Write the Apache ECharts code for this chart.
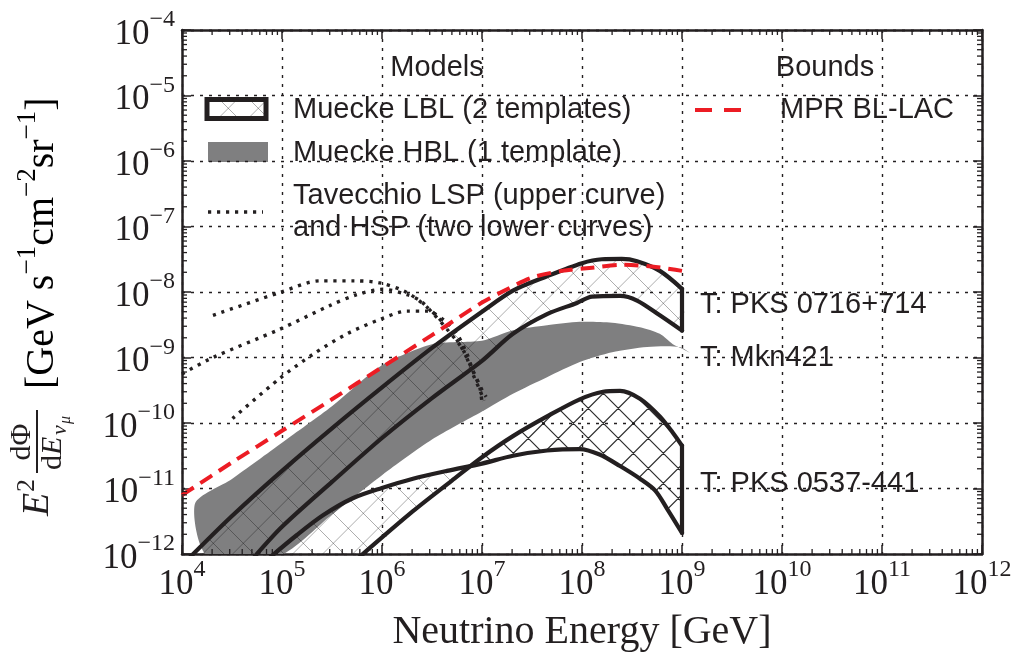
<!DOCTYPE html>
<html>
<head>
<meta charset="utf-8">
<script src="https://cdn.jsdelivr.net/npm/echarts@6/dist/echarts.min.js"></script>
<style>
html,body{margin:0;padding:0;background:#fff;}
#chart{width:1019px;height:657px;}
</style>
</head>
<body>
<div id="chart"></div>
<script>
// ---------------- axis ticks ----------------
const xDecades = [1e4, 1e5, 1e6, 1e7, 1e8, 1e9, 1e10, 1e11, 1e12];
const yDecades = [1e-12, 1e-11, 1e-10, 1e-9, 1e-8, 1e-7, 1e-6, 1e-5, 1e-4];
const minorMultipliers = [2, 3, 4, 5, 6, 7, 8, 9];

// ---------------- data: [neutrino energy (GeV), E^2 dPhi/dE] ----------------
// MPR BL-LAC bound (red dashed)
const mprBlLac = [[1e4,7.9e-12],[3.16e4,2.5e-11],[1e5,7.6e-11],[3.16e5,2.3e-10],[1e6,7.1e-10],[3.16e6,2.2e-9],[1e7,6.9e-9],[1.78e7,1.1e-8],[3.16e7,1.66e-8],[6.3e7,2.1e-8],[1.26e8,2.35e-8],[2.5e8,2.6e-8],[5e8,2.45e-8],[1e9,2.1e-8]];
// Muecke LBL, template PKS 0716+714
const pks0716Upper = [[1.2e4,8.9e-13],[3.16e4,3.8e-12],[1e5,1.86e-11],[3.16e5,8.3e-11],[1e6,3.5e-10],[3.16e6,1.4e-9],[1e7,5e-9],[2.04e7,1.05e-8],[4.47e7,1.74e-8],[1e8,2.75e-8],[1.58e8,3.16e-8],[2.5e8,3.2e-8],[3.55e8,2.95e-8],[6e8,2.1e-8],[1e9,1.12e-8]];
const pks0716Lower = [[5.25e4,8.9e-13],[1e5,2.6e-12],[3.16e5,1.26e-11],[1e6,5.9e-11],[3.16e6,2.4e-10],[1e7,8.9e-10],[2.04e7,2.3e-9],[4.47e7,4.6e-9],[8.9e7,6.8e-9],[1.26e8,8.5e-9],[2.4e8,8.7e-9],[3.55e8,7.4e-9],[6e8,4.4e-9],[1e9,2.57e-9]];
// Muecke LBL, template PKS 0537-441 (curve A: flatter, curve B: steeper)
const pks0537A = [[7.6e4,8.9e-13],[1.41e5,1.95e-12],[2.57e5,3.9e-12],[5.1e5,7.1e-12],[1e6,1.02e-11],[2.04e6,1.41e-11],[4.47e6,1.86e-11],[1e7,2.4e-11],[2.04e7,3.16e-11],[4.47e7,3.8e-11],[9.5e7,4e-11],[1.5e8,3.3e-11],[2.4e8,2.2e-11],[3.8e8,1.41e-11],[5.4e8,9.3e-12],[7.1e8,4.9e-12],[1e9,2.1e-12]];
const pks0537B = [[5.9e5,8.9e-13],[2.04e6,4.5e-12],[5e6,1.32e-11],[1e7,3e-11],[2.04e7,6.3e-11],[4.47e7,1.26e-10],[9.5e7,2.3e-10],[1.62e8,3e-10],[2.4e8,3.1e-10],[3.8e8,2.35e-10],[6e8,1.26e-10],[8.1e8,7.1e-11],[1e9,4.5e-11]];
const pks0537Cross = [7.7e6, 2.2e-11];
// Muecke HBL, template Mkn421 (grey band)
const mkn421Upper = [[1.35e4,5.9e-12],[3.16e4,1.4e-11],[1e5,5e-11],[3.16e5,1.8e-10],[1e6,7.6e-10],[3.16e6,1.6e-9],[1e7,1.8e-9],[2.04e7,2.6e-9],[4.47e7,3.1e-9],[9.5e7,3.5e-9],[2e8,3.4e-9],[3.8e8,2.9e-9],[6e8,2.3e-9],[8.1e8,1.6e-9],[1.02e9,1.35e-9],[1.26e9,1.12e-9]];
const mkn421Lower = [[1.78e4,9.5e-13],[9.5e4,9.5e-13],[3.16e5,4e-12],[1e6,1.6e-11],[3.16e6,5.6e-11],[1e7,1.5e-10],[2.04e7,2.8e-10],[4.47e7,5e-10],[9.5e7,8.5e-10],[2e8,1.2e-9],[4.47e8,1.45e-9],[9.5e8,1.45e-9],[1.26e9,1.12e-9]];
// Tavecchio LSP (upper) and HSP (two lower) curves
const tavecchioLSP = [[2.04e4,4.4e-9],[9.5e4,9.8e-9],[2.4e5,1.48e-8],[5.1e5,1.48e-8],[9.5e5,1.38e-8],[1.78e6,9.8e-9],[3e6,5.4e-9],[4.47e6,2.9e-9],[6e6,1.58e-9],[8.1e6,6.3e-10],[1e7,3.2e-10],[1.1e7,2.5e-10]];
const tavecchioHSP1 = [[1e4,5.6e-10],[2.04e4,1e-9],[9.5e4,2.7e-9],[3e5,6.2e-9],[5.6e5,9.1e-9],[1.02e6,1.1e-8],[1.78e6,9.1e-9],[2.4e6,7.4e-9],[3.2e6,4.8e-9],[4.47e6,2.7e-9],[6.5e6,1.29e-9],[8.1e6,5.6e-10],[9.5e6,3.2e-10],[1.05e7,2.2e-10]];
const tavecchioHSP2 = [[3.2e4,1.17e-10],[9.5e4,4.8e-10],[2.04e5,1.12e-9],[4.47e5,2.3e-9],[9.5e5,3.8e-9],[1.78e6,5.1e-9],[2.8e6,5.1e-9],[4.1e6,3.8e-9],[5.6e6,2.3e-9],[7.1e6,1.12e-9],[8.1e6,6.3e-10],[9.5e6,3.5e-10],[1e7,2e-10]];

// ---------------- texts ----------------
const legendHeaders = ['Models', 'Bounds'];
const legendLabels = ['Muecke LBL (2 templates)', 'Muecke HBL (1 template)', 'Tavecchio LSP (upper curve)', 'and HSP (two lower curves)', 'MPR BL-LAC'];
const templateLabels = ['T: PKS 0716+714', 'T: Mkn421', 'T: PKS 0537-441'];
const xTitle = 'Neutrino Energy [GeV]';

// ---------------- helpers ----------------
const XMIN = xDecades[0], XMAX = xDecades[xDecades.length - 1];
const YMIN = yDecades[0], YMAX = yDecades[yDecades.length - 1];
const INK = '#231f20';
const SERIF = '"Liberation Serif", "DejaVu Serif", serif';
const SANS = '"Liberation Sans", Arial, sans-serif';
const SANS_FONT = '29px ' + SANS;

function hatchPattern(color, lw) {
  const s = 30, c = document.createElement('canvas');
  c.width = s; c.height = s;
  const g = c.getContext('2d');
  g.strokeStyle = color; g.lineWidth = lw;
  g.beginPath();
  for (let k = -3; k <= 3; k++) {
    g.moveTo(-s, -s + k * s); g.lineTo(2 * s, 2 * s + k * s);
    g.moveTo(-s, s + 6.6 + k * s); g.lineTo(2 * s, -2 * s + 6.6 + k * s);
  }
  g.stroke();
  return { image: c, repeat: 'repeat' };
}
const lightHatch = hatchPattern('rgba(0,0,0,0.32)', 1);
const darkHatch = hatchPattern('rgba(20,20,20,0.9)', 1.2);

function minorValues(decades) {
  const out = [];
  for (let i = 0; i < decades.length - 1; i++) minorMultipliers.forEach(m => out.push(decades[i] * m));
  return out;
}

function polygonSeries(name, points, fill, z) {
  return {
    name, type: 'custom', clip: true, silent: true, z,
    data: points,
    renderItem: (params, api) => {
      if (params.dataIndex !== 0) return null;
      return {
        type: 'polygon',
        shape: { points: points.map(p => api.coord(p)), smooth: 0.25 },
        style: { fill: fill, stroke: null }
      };
    }
  };
}

function lineSeries(name, data, style, z) {
  return {
    name, type: 'line', data, z, clip: true, silent: true,
    showSymbol: false, symbol: 'none', smooth: 0.3,
    lineStyle: Object.assign({ cap: 'round', join: 'round' }, style)
  };
}

const blackLine = { color: INK, width: 4.2 };
const dottedLine = { color: INK, width: 3.4, type: [3.2, 5.8], cap: 'butt' };
const redDash = { color: '#ec1c24', width: 4, type: [14, 8], cap: 'butt' };

const supRich = {
  b: { fontFamily: SERIF, fontSize: 35, color: INK, lineHeight: 44, verticalAlign: 'bottom' },
  s: { fontFamily: SERIF, fontSize: 24, color: INK, lineHeight: 20, verticalAlign: 'top' }
};

// ---------------- band polygons ----------------
const pks0716Poly = pks0716Upper.concat(pks0716Lower.slice().reverse());
const pks0537LeftPoly = pks0537B.filter(p => p[0] < pks0537Cross[0]).concat([pks0537Cross], pks0537A.filter(p => p[0] < pks0537Cross[0]).reverse());
const pks0537RightPoly = [pks0537Cross].concat(pks0537B.filter(p => p[0] > pks0537Cross[0]), pks0537A.filter(p => p[0] > pks0537Cross[0]).reverse());
const mkn421Poly = mkn421Upper.concat(mkn421Lower.slice().reverse());

function tickSeries(values, isX) {
  return {
    type: 'custom', silent: true, z: 20, clip: false,
    data: values.map(v => isX ? [v, YMIN] : [XMIN, v]),
    renderItem: (params, api) => {
      const len = 5, st = { stroke: INK, lineWidth: 1.3 };
      if (isX) {
        const v = api.value(0);
        const b = api.coord([v, YMIN]), t = api.coord([v, YMAX]);
        return { type: 'group', children: [
          { type: 'line', shape: { x1: b[0], y1: b[1], x2: b[0], y2: b[1] - len }, style: st },
          { type: 'line', shape: { x1: t[0], y1: t[1], x2: t[0], y2: t[1] + len }, style: st }
        ] };
      } else {
        const v = api.value(1);
        const l = api.coord([XMIN, v]), r = api.coord([XMAX, v]);
        return { type: 'group', children: [
          { type: 'line', shape: { x1: l[0], y1: l[1], x2: l[0] + len, y2: l[1] }, style: st },
          { type: 'line', shape: { x1: r[0], y1: r[1], x2: r[0] - len, y2: r[1] }, style: st }
        ] };
      }
    }
  };
}

const axisLineStyle = { show: true, onZero: false, lineStyle: { color: INK, width: 2.5 } };
const majorTick = { show: true, inside: true, length: 9, lineStyle: { color: INK, width: 1.5 } };
const gridLine = { show: true, lineStyle: { color: INK, width: 1.4, type: [3, 6] } };

const chart = echarts.init(document.getElementById('chart'));
chart.setOption({
  animation: false,
  backgroundColor: '#fff',
  grid: { left: 182, right: 37, top: 30, bottom: 98, containLabel: false },
  xAxis: [{
    type: 'log', logBase: 10, min: XMIN, max: XMAX,
    axisLine: axisLineStyle, axisTick: majorTick, splitLine: gridLine,
    axisLabel: {
      margin: 4,
      formatter: v => '{b|10}{s|' + Math.round(Math.log10(v)) + '}',
      rich: supRich
    },
    name: xTitle, nameLocation: 'middle', nameGap: 58,
    nameTextStyle: { fontFamily: SERIF, fontSize: 40, color: INK }
  }, {
    type: 'log', logBase: 10, min: XMIN, max: XMAX, position: 'top',
    axisLine: axisLineStyle, axisTick: majorTick, splitLine: { show: false }, axisLabel: { show: false }
  }],
  yAxis: [{
    type: 'log', logBase: 10, min: YMIN, max: YMAX,
    axisLine: axisLineStyle, axisTick: majorTick, splitLine: gridLine,
    axisLabel: {
      margin: 7,
      formatter: v => '{b|10}{s|\u2212' + (-Math.round(Math.log10(v))) + '}',
      rich: supRich
    }
  }, {
    type: 'log', logBase: 10, min: YMIN, max: YMAX, position: 'right',
    axisLine: axisLineStyle, axisTick: majorTick, splitLine: { show: false }, axisLabel: { show: false }
  }],
  series: [
    polygonSeries('Mkn421', mkn421Poly, '#7f7f80', 2),
    polygonSeries('PKS 0716+714 fill', pks0716Poly, lightHatch, 3),
    polygonSeries('PKS 0537-441 fill low', pks0537LeftPoly, lightHatch, 3),
    polygonSeries('PKS 0537-441 fill high', pks0537RightPoly, darkHatch, 3),
    lineSeries('PKS 0716 upper', pks0716Upper, blackLine, 5),
    lineSeries('PKS 0716 lower', pks0716Lower, blackLine, 5),
    lineSeries('PKS 0716 edge', [pks0716Upper[pks0716Upper.length - 1], pks0716Lower[pks0716Lower.length - 1]], blackLine, 5),
    lineSeries('PKS 0537 A', pks0537A, blackLine, 5),
    lineSeries('PKS 0537 B', pks0537B, blackLine, 5),
    lineSeries('PKS 0537 edge', [pks0537B[pks0537B.length - 1], pks0537A[pks0537A.length - 1]], blackLine, 5),
    lineSeries('Tavecchio LSP', tavecchioLSP, dottedLine, 6),
    lineSeries('Tavecchio HSP 1', tavecchioHSP1, dottedLine, 6),
    lineSeries('Tavecchio HSP 2', tavecchioHSP2, dottedLine, 6),
    lineSeries('MPR BL-LAC', mprBlLac, redDash, 7),
    tickSeries(minorValues(xDecades), true),
    tickSeries(minorValues(yDecades), false)
  ],
  graphic: [
    // legend headers
    { type: 'text', x: 437, y: 68, style: { text: legendHeaders[0], font: SANS_FONT, fill: INK, align: 'center', verticalAlign: 'middle' } },
    { type: 'text', x: 825, y: 68, style: { text: legendHeaders[1], font: SANS_FONT, fill: INK, align: 'center', verticalAlign: 'middle' } },
    // legend symbols
    { type: 'rect', shape: { x: 207, y: 99.5, width: 59, height: 19 }, style: { fill: lightHatch, stroke: INK, lineWidth: 5 } },
    { type: 'rect', shape: { x: 208, y: 142, width: 60, height: 20 }, style: { fill: '#7f7f80' } },
    { type: 'line', shape: { x1: 208, y1: 212, x2: 263, y2: 212 }, style: { stroke: INK, lineWidth: 3.4, lineDash: [3.2, 5.8] } },
    { type: 'line', shape: { x1: 695, y1: 110, x2: 741, y2: 110 }, style: { stroke: '#ec1c24', lineWidth: 4, lineDash: [17, 12] } },
    // legend labels
    { type: 'text', x: 293, y: 110, style: { text: legendLabels[0], font: SANS_FONT, fill: INK, verticalAlign: 'middle' } },
    { type: 'text', x: 293, y: 153, style: { text: legendLabels[1], font: SANS_FONT, fill: INK, verticalAlign: 'middle' } },
    { type: 'text', x: 293, y: 196, style: { text: legendLabels[2], font: SANS_FONT, fill: INK, verticalAlign: 'middle' } },
    { type: 'text', x: 293, y: 228, style: { text: legendLabels[3], font: SANS_FONT, fill: INK, verticalAlign: 'middle' } },
    { type: 'text', x: 780, y: 110, style: { text: legendLabels[4], font: SANS_FONT, fill: INK, verticalAlign: 'middle' } },
    // template labels
    { type: 'text', x: 700, y: 305, style: { text: templateLabels[0], font: SANS_FONT, fill: INK, verticalAlign: 'middle' } },
    { type: 'text', x: 700, y: 358, style: { text: templateLabels[1], font: SANS_FONT, fill: INK, verticalAlign: 'middle' } },
    { type: 'text', x: 700, y: 484, style: { text: templateLabels[2], font: SANS_FONT, fill: INK, verticalAlign: 'middle' } },
    // y-axis title (rotated)
    { type: 'group', x: 38, y: 516, rotation: Math.PI / 2, children: [
      { type: 'text', x: 0, y: 0, style: { text: 'E', font: 'italic 38px ' + SERIF, fill: INK, verticalAlign: 'middle' } },
      { type: 'text', x: 24, y: -11, style: { text: '2', font: '26px ' + SERIF, fill: INK, verticalAlign: 'middle' } },
      { type: 'text', x: 74, y: -16, style: { text: 'd\u03A6', font: '30px ' + SERIF, fill: INK, align: 'center', verticalAlign: 'middle' } },
      { type: 'line', shape: { x1: 43, y1: -1, x2: 106, y2: -1 }, style: { stroke: INK, lineWidth: 2 } },
      { type: 'text', x: 46, y: 15, style: { text: 'd', font: '30px ' + SERIF, fill: INK, verticalAlign: 'middle' } },
      { type: 'text', x: 61, y: 15, style: { text: 'E', font: 'italic 30px ' + SERIF, fill: INK, verticalAlign: 'middle' } },
      { type: 'text', x: 81, y: 22, style: { text: '\u03BD', font: 'italic 22px ' + SERIF, fill: INK, verticalAlign: 'middle' } },
      { type: 'text', x: 92, y: 28, style: { text: '\u03BC', font: 'italic 16px ' + SERIF, fill: INK, verticalAlign: 'middle' } },
      { type: 'text', x: 127, y: 0, style: {
        text: '{m|[GeV}{m| s}{s|\u22121}{m|cm}{s|\u22122}{m|sr}{s|\u22121}{m|]}',
        verticalAlign: 'middle',
        rich: {
          m: { fontFamily: SERIF, fontSize: 40, color: INK, lineHeight: 48, verticalAlign: 'bottom' },
          s: { fontFamily: SERIF, fontSize: 27, color: INK, lineHeight: 22, verticalAlign: 'top' }
        }
      } }
    ] }
  ]
});
</script>
</body>
</html>
